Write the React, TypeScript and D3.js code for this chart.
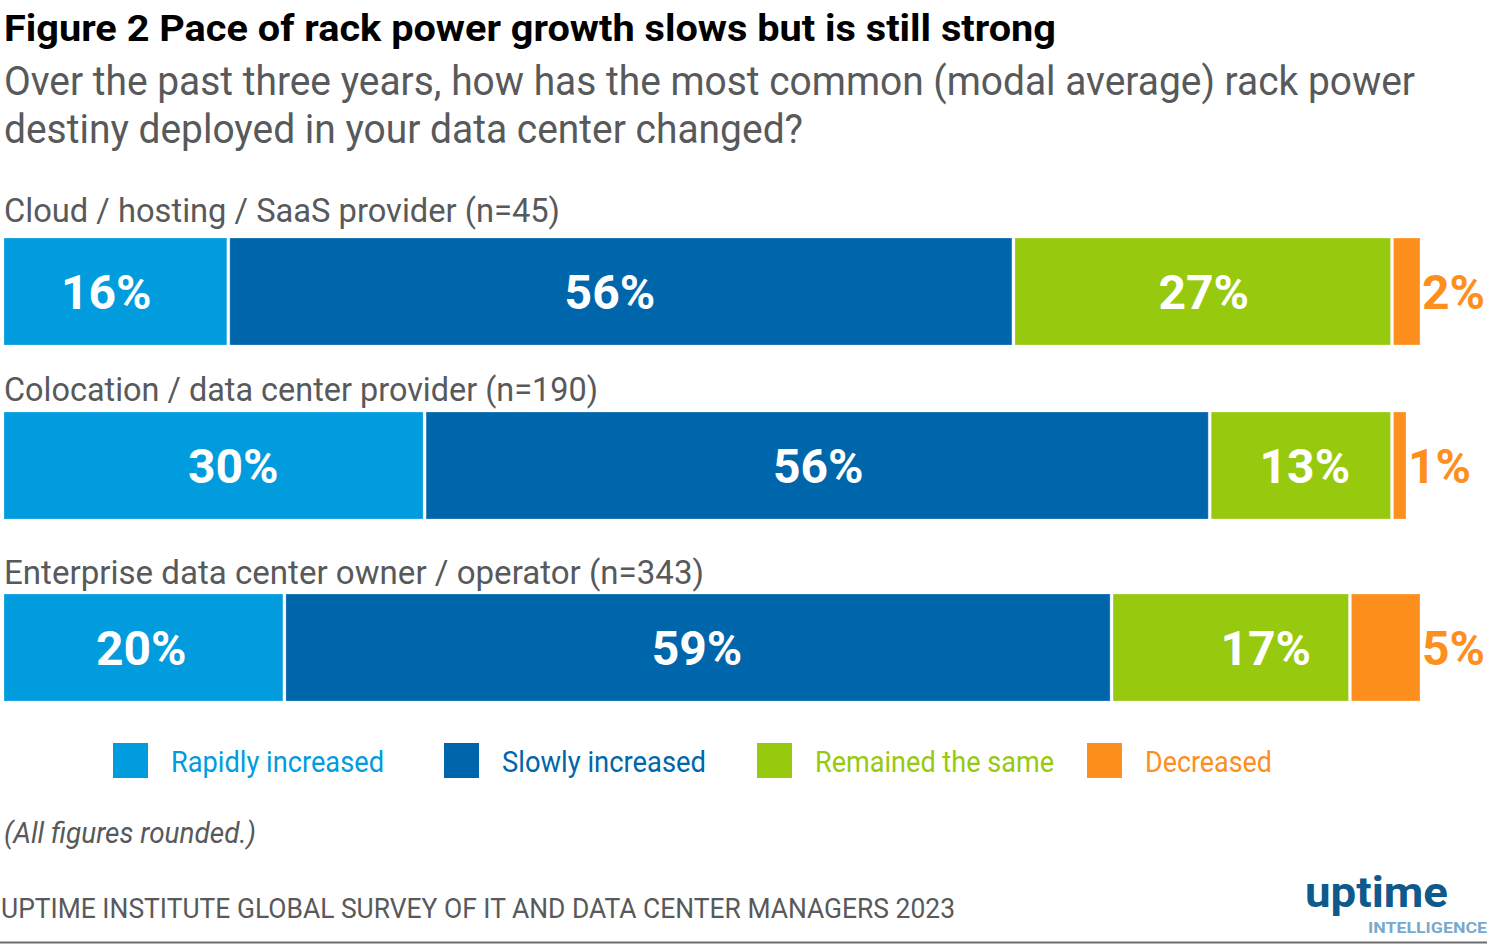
import React from "react";
import * as d3 from "d3";

const title = "Figure 2 Pace of rack power growth slows but is still strong";
const subtitleLines = [
  "Over the past three years, how has the most common (modal average) rack power",
  "destiny deployed in your data center changed?",
];
const categories = [
  "Cloud / hosting / SaaS provider (n=45)",
  "Colocation / data center provider (n=190)",
  "Enterprise data center owner / operator (n=343)",
];
const seriesNames = ["Rapidly increased", "Slowly increased", "Remained the same", "Decreased"];
const rapidly = [16, 30, 20];
const slowly = [56, 56, 59];
const same = [27, 13, 17];
const decreased = [2, 1, 5];
const footnote = "(All figures rounded.)";
const source = "UPTIME INSTITUTE GLOBAL SURVEY OF IT AND DATA CENTER MANAGERS 2023";

const colors = ["#009cde", "#0066ab", "#97c90f", "#fd8f1f"];
const FONT = "Roboto, 'Noto Sans', sans-serif";
const GRAY = "#58595b";

// layout: horizontal nudges of in-bar value labels (px), per row / segment
const LABEL_NUDGE = [
  [-10, -11, 1],
  [19, 1, 4],
  [-3, -1, 35],
];

export default function App() {
  const W = 1489, H = 949;
  const x = d3.scaleLinear().domain([0, 100]).range([4, 1406]);
  const rowTops = [238, 412, 594];
  const barH = 107;
  const labelBaselines = [222, 401, 584];
  const labelWidths = [556, 594, 700];
  const series = [rapidly, slowly, same, decreased];

  const rows = categories.map((c, r) => {
    const vals = series.map((s) => s[r]);
    const cum = d3.cumsum(vals);
    return vals.map((v, i) => ({ v, start: i === 0 ? 0 : cum[i - 1], end: cum[i], i }));
  });

  const legendX = [113, 444, 757, 1087];
  const legendW = [213, 204, 239, 127];

  return (
    <svg width={W} height={H} style={{ position: "absolute", left: 0, top: 0, background: "#fff" }} fontFamily={FONT}>
      <text x={4} y={41} fontSize={37} fontWeight={700} fill="#000" textLength={1052} lengthAdjust="spacingAndGlyphs">
        {title}
      </text>
      {subtitleLines.map((l, i) => (
        <text key={i} x={4} y={95 + i * 48} fontSize={40} fill={GRAY}
          textLength={i === 0 ? 1411 : 799} lengthAdjust="spacingAndGlyphs">
          {l}
        </text>
      ))}
      {categories.map((c, r) => (
        <g key={c}>
          <text x={4} y={labelBaselines[r]} fontSize={34} fill={GRAY} textLength={labelWidths[r]} lengthAdjust="spacingAndGlyphs">
            {c}
          </text>
          {rows[r].map((s) => {
            const last = s.i === rows[r].length - 1;
            const x0 = x(s.start) + (s.i > 0 ? 1.5 : 0);
            const x1 = x(s.end) - (last ? 0 : 1.5);
            const cx = (x(s.start) + x(s.end)) / 2 + (last ? 0 : LABEL_NUDGE[r][s.i]);
            return (
              <g key={s.i}>
                <rect x={x0} y={rowTops[r]} width={Math.max(0, x1 - x0)} height={barH} fill={colors[s.i]}
                  stroke="#ffffff" strokeOpacity={0.25} strokeWidth={1} />
                {last ? (
                  <text x={x(s.end) + 2} y={rowTops[r] + 71} fontSize={48} fontWeight={700} fill={colors[3]}>
                    {`${s.v}%`}
                  </text>
                ) : (
                  <text x={cx} y={rowTops[r] + 71} fontSize={48} fontWeight={700} fill="#fff" textAnchor="middle">
                    {`${s.v}%`}
                  </text>
                )}
              </g>
            );
          })}
        </g>
      ))}
      {seriesNames.map((n, i) => (
        <g key={n}>
          <rect x={legendX[i]} y={743} width={35} height={35} fill={colors[i]} />
          <text x={legendX[i] + 58} y={772} fontSize={29} fill={colors[i]} textLength={legendW[i]} lengthAdjust="spacingAndGlyphs">
            {n}
          </text>
        </g>
      ))}
      <text x={4} y={843} fontSize={29} fontStyle="italic" fill={GRAY} textLength={252} lengthAdjust="spacingAndGlyphs">
        {footnote}
      </text>
      <text x={1} y={918} fontSize={27} fill={GRAY} textLength={954} lengthAdjust="spacingAndGlyphs">
        {source}
      </text>
      <text x={1305} y={907} fontSize={43} fontWeight={700} fill="#0f5a8c" textLength={143} lengthAdjust="spacingAndGlyphs">
        uptime
      </text>
      <text x={1368} y={933} fontSize={14} fontWeight={700} fill="#7aa9cc" textLength={119} lengthAdjust="spacingAndGlyphs">
        INTELLIGENCE
      </text>
      <line x1={0} x2={1487} y1={942.5} y2={942.5} stroke="#6d6d6d" strokeWidth={2} />
    </svg>
  );
}
